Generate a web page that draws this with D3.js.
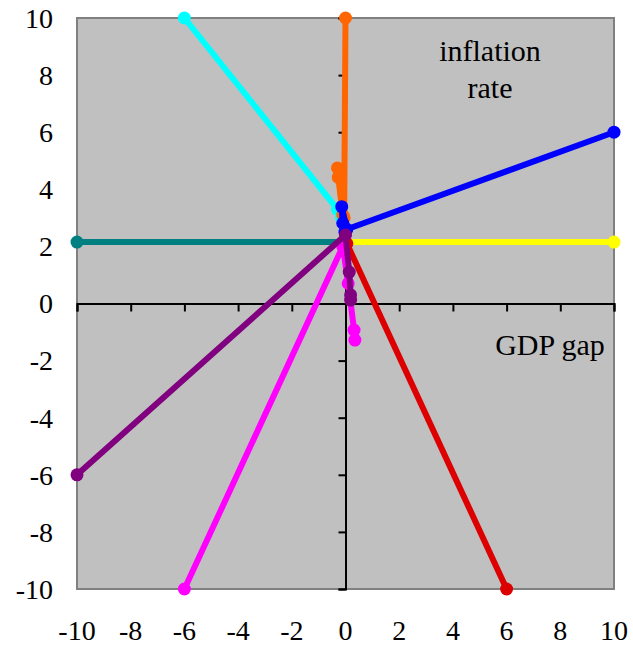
<!DOCTYPE html>
<html><head><meta charset="utf-8">
<script src="https://cdn.jsdelivr.net/npm/d3@7"></script>
<style>body{margin:0;background:#fff}svg{display:block}text{font-family:'Liberation Serif','Times New Roman',Times,serif}</style>
</head><body>
<svg id="c" width="633" height="647"></svg>
<script>
const xTicks = [-10,-8,-6,-4,-2,0,2,4,6,8,10];
const yTicks = [-10,-8,-6,-4,-2,0,2,4,6,8,10];

const teal    = [[-10,2.15],[0,2.15]];
const yellow  = [[10,2.15],[0,2.15]];
const cyan    = [[-6,10],[-0.3,3.3],[-0.15,3.0]];
const orange  = [[0,10],[-0.05,3.0],[-0.3,4.75],[-0.27,4.42],[-0.1,3.1]];
const blue    = [[10,6],[0.05,2.6],[-0.14,3.39],[-0.1,2.81],[-0.02,2.5]];
const red     = [[6,-10],[0.05,2.1]];
const magenta = [[-6,-10],[-0.1,2.0],[0.1,0.7],[0.32,-0.93],[0.35,-1.28]];
const purple  = [[-10,-6],[0,2.4],[0.14,1.1],[0.19,0.3],[0.19,0.12]];

const series = [
  {d: teal, c: "#008080"},
  {d: yellow, c: "#FFFF00"},
  {d: cyan, c: "#00FFFF"},
  {d: orange, c: "#FF6600"},
  {d: red, c: "#DD0000"},
  {d: magenta, c: "#FF00FF"},
  {d: blue, c: "#0000FF"},
  {d: purple, c: "#800080"}
];

const svg = d3.select("#c");
const x = d3.scaleLinear().domain([-10,10]).range([77,614]);
const y = d3.scaleLinear().domain([-10,10]).range([589,18]);

svg.append("rect").attr("x",x(-10)).attr("y",y(10))
  .attr("width",x(10)-x(-10)).attr("height",y(-10)-y(10))
  .attr("fill","#C0C0C0").attr("stroke","#808080").attr("stroke-width",2);

const xAxis = d3.axisBottom(x).tickValues(xTicks).tickSize(8).tickFormat("");
const gx = svg.append("g").attr("transform",`translate(0,${y(0)})`).call(xAxis);
gx.select(".domain").attr("stroke","#000").attr("stroke-width",2);
gx.selectAll(".tick line").attr("stroke","#000").attr("stroke-width",2);

const yAxis = d3.axisLeft(y).tickValues(yTicks).tickSize(7).tickFormat("");
const gy = svg.append("g").attr("transform",`translate(${x(0)},0)`).call(yAxis);
gy.select(".domain").attr("stroke","#000").attr("stroke-width",2);
gy.selectAll(".tick line").attr("stroke","#000").attr("stroke-width",2);

svg.append("g").selectAll("text").data(yTicks).join("text")
  .attr("x",53).attr("y",d=>y(d)).attr("dy","0.35em")
  .attr("text-anchor","end").attr("font-size",28)
  .text(d=>d);
svg.append("g").selectAll("text").data(xTicks).join("text")
  .attr("x",d=>x(d)).attr("y",640)
  .attr("text-anchor","middle").attr("font-size",28)
  .text(d=>d);

const line = d3.line().x(d=>x(d[0])).y(d=>y(d[1]));
series.forEach(s=>{
  const g = svg.append("g");
  g.append("path").attr("d",line(s.d)).attr("fill","none")
    .attr("stroke",s.c).attr("stroke-width",6).attr("stroke-linejoin","round");
  g.selectAll("circle").data(s.d).join("circle")
    .attr("cx",d=>x(d[0])).attr("cy",d=>y(d[1])).attr("r",6.5).attr("fill",s.c);
});

svg.append("text").attr("x",490).attr("y",61).attr("text-anchor","middle")
  .attr("font-size",30).text("inflation");
svg.append("text").attr("x",490).attr("y",98).attr("text-anchor","middle")
  .attr("font-size",30).text("rate");
svg.append("text").attr("x",550).attr("y",355).attr("text-anchor","middle")
  .attr("font-size",30).text("GDP gap");
</script>
</body></html>
